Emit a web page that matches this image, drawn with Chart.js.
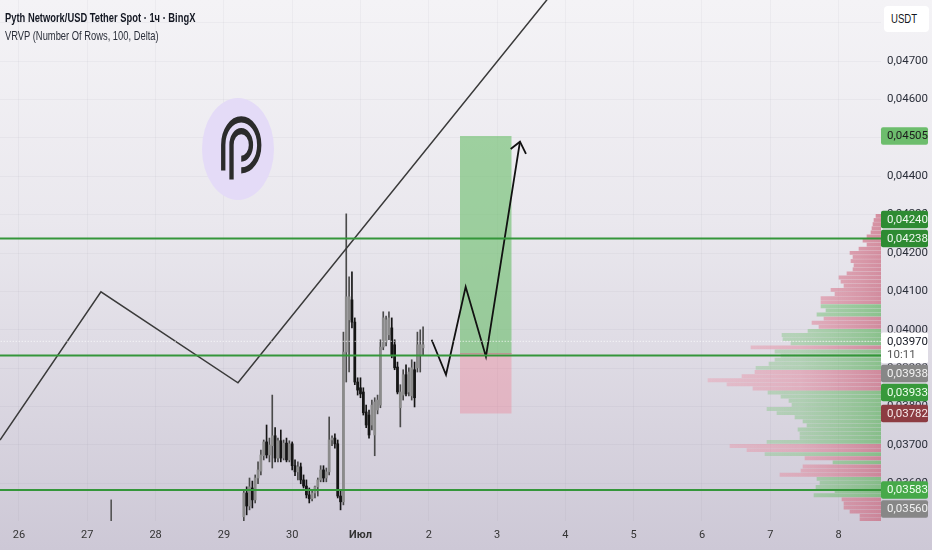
<!DOCTYPE html>
<html>
<head>
<meta charset="utf-8">
<script src="https://cdn.jsdelivr.net/npm/chart.js@4.4.0/dist/chart.umd.min.js"></script>
<style>
html,body{margin:0;padding:0;width:932px;height:550px;overflow:hidden;}
body{position:relative;background:linear-gradient(to bottom,#f4f3f6 0%,#eae8ee 40%,#cdc8d6 100%);font-family:'Liberation Sans',Arial,sans-serif;}
#c{position:absolute;left:0;top:0;}
.t1,.t2{position:absolute;left:5px;white-space:nowrap;transform:scaleX(0.72);transform-origin:0 0;}
.t1{top:10px;font-size:13px;font-weight:bold;color:#131722;}
.t2{top:28px;font-size:13px;color:#2a2e39;}
.usdt{position:absolute;left:884px;top:6px;width:45px;height:26px;background:#fff;border-radius:4px;}
.usdt span{position:absolute;left:7px;top:6px;font-size:12px;color:#131722;transform:scaleX(0.8);transform-origin:0 0;}
.logo{position:absolute;left:202px;top:98px;width:72px;height:102px;}
</style>
</head>
<body>
<canvas id="c" width="932" height="550"></canvas>
<div class="t1">Pyth Network/USD Tether Spot · 1ч · BingX</div>
<div class="t2">VRVP (Number Of Rows, 100, Delta)</div>
<div class="usdt"><span>USDT</span></div>
<svg class="logo" viewBox="0 0 100 100" preserveAspectRatio="none">
  <ellipse cx="50" cy="50" rx="50" ry="50" fill="#e4dbf7"/>
  <path d="M29.5 71 L29.5 46 A25 25 0 1 1 54.5 71" fill="none" stroke="#2b2b2b" stroke-width="6"/>
  <path d="M41 80 L41 46 A13.5 13.5 0 1 1 54.5 59.5" fill="none" stroke="#2b2b2b" stroke-width="6"/>
</svg>
<script>
// ---------- DATA ----------
// x axis: day of month (31 = 1 July)
const dayTicks  = [26, 27, 28, 29, 30, 31, 32, 33, 34, 35, 36, 37, 38];
const dayLabels = ['26', '27', '28', '29', '30', 'Июл', '2', '3', '4', '5', '6', '7', '8'];
const priceTicks = [0.036, 0.037, 0.038, 0.039, 0.040, 0.041, 0.042, 0.043, 0.044, 0.045, 0.046, 0.047, 0.048];
const xRange = [25.722, 38.621];
const yRange = [0.03502, 0.04859];

// hourly candles, first one 29 Jun 07:00
const candleStart = 29 + 7 / 24;
const candleStep = 1 / 24;
const opens  = [0.03513,0.03575,0.03541,0.03588,0.03557,0.03614,0.03632,0.03672,0.03708,0.03674,0.03698,0.03724,0.03666,0.03711,0.03666,0.03705,0.03661,0.03703,0.03646,0.03630,0.03643,0.03609,0.03593,0.03570,0.03560,0.03575,0.03591,0.03609,0.03635,0.03614,0.03630,0.03713,0.03718,0.03703,0.03567,0.03552,
                0.03942,0.04026,0.04078,0.04020,0.03864,0.03849,0.03838,0.03786,0.03778,0.03752,0.03726,0.03791,0.03804,0.03955,0.03968,0.03987,0.04005,0.03961,0.03903,0.03797,0.03830,0.03883,0.03838,0.03828,0.03896,0.03901,0.03935,0.03953];
const highs  = [0.03583,0.03591,0.03614,0.03606,0.03622,0.03656,0.03687,0.03713,0.03752,0.03718,0.03830,0.03745,0.03718,0.03739,0.03713,0.03718,0.03711,0.03708,0.03661,0.03656,0.03653,0.03622,0.03609,0.03588,0.03583,0.03593,0.03614,0.03646,0.03646,0.03640,0.03773,0.03724,0.03729,0.03713,0.03583,0.03994,
                0.04302,0.04138,0.04151,0.04031,0.03875,0.03875,0.03849,0.03804,0.03791,0.03817,0.03823,0.03830,0.03974,0.04047,0.04036,0.04047,0.04031,0.03974,0.03916,0.03857,0.03896,0.03909,0.03901,0.03922,0.03916,0.03994,0.04000,0.04008];
const lows   = [0.03500,0.03518,0.03531,0.03536,0.03549,0.03599,0.03622,0.03661,0.03666,0.03656,0.03640,0.03656,0.03656,0.03656,0.03661,0.03656,0.03656,0.03635,0.03620,0.03609,0.03599,0.03588,0.03562,0.03549,0.03554,0.03562,0.03567,0.03604,0.03604,0.03604,0.03622,0.03698,0.03692,0.03562,0.03531,0.03544,
                0.03864,0.03890,0.04005,0.03857,0.03830,0.03823,0.03778,0.03745,0.03718,0.03739,0.03672,0.03781,0.03797,0.03948,0.03958,0.03974,0.03927,0.03896,0.03833,0.03747,0.03817,0.03828,0.03828,0.03817,0.03799,0.03890,0.03890,0.03935];
const closes = [0.03575,0.03541,0.03591,0.03557,0.03614,0.03635,0.03674,0.03708,0.03674,0.03700,0.03724,0.03666,0.03711,0.03666,0.03705,0.03661,0.03703,0.03646,0.03630,0.03643,0.03609,0.03593,0.03570,0.03560,0.03575,0.03591,0.03609,0.03635,0.03614,0.03630,0.03713,0.03718,0.03703,0.03567,0.03552,0.03942,
                0.04086,0.04086,0.04020,0.03864,0.03843,0.03833,0.03784,0.03752,0.03726,0.03804,0.03812,0.03817,0.03955,0.04031,0.04026,0.04031,0.03935,0.03901,0.03838,0.03838,0.03883,0.03833,0.03890,0.03901,0.03823,0.03961,0.03961,0.03961];
// a single earlier candle whose wick pokes into view on 27 Jun
const earlyCandle = { t: 27.35, o: 0.03460, h: 0.03557, l: 0.03400, c: 0.03440 };

// Visible range volume profile (rows from top), volume in K, delta sign (+1 buy, -1 sell)
const vpTop = 0.04302;
const vpStep = 0.000107;
const vpVolume = [10,14,16,18,20,28,36,28,44,62,56,60,54,56,68,84,80,74,100,92,
                  120,120,120,110,128,114,138,124,146,198,196,180,260,212,200,212,224,250,252,278,
                  346,308,256,226,200,184,178,228,208,172,156,148,166,162,162,228,302,268,232,152,
                  96,156,160,202,128,122,130,92,134,78,74,74,62,42,42];
const vpDeltaSign = [-1,-1,-1,-1,-1,-1,-1,-1,-1,-1,-1,-1,-1,-1,-1,-1,-1,-1,-1,-1,-1,-1,
                     1,1,1,-1,-1,-1,1,1,1,1,-1,1,1,1,1,1,-1,-1,-1,-1,-1,
                     1,1,1,1,1,1,1,1,1,1,1,1,1,-1,-1,1,-1,1,-1,-1,-1,
                     1,1,1,1,1,-1,-1,-1,-1,-1,-1];
const vpAxisMax = 1762;

// drawings
const zigzagX = [25.722, 27.20, 29.206, 33.90];
const zigzagY = [0.03713, 0.04099, 0.03862, 0.04897];
const forecastX = [32.042, 32.252, 32.540, 32.837, 33.335];
const forecastY = [0.03974, 0.03883, 0.04112, 0.03930, 0.04490];
const arrowHeadX = [33.199, 33.335, 33.423];
const arrowHeadY = [0.04471, 0.04490, 0.04458];
const levelPrices = [0.04238, 0.03933, 0.03583];
const positionTime = [32.457, 33.214];
const positionEntry = 0.03938, positionTarget = 0.04505, positionStop = 0.03782;
const lastPrice = 0.03970;
const countdown = '10:11';

// price scale labels
const badges = [
  { value: 0.04505, bg: '#6dbd6d', fg: '#1c1c1c' },
  { value: 0.04240, bg: '#2e8b32', fg: '#eef8ee', lift: true },
  { value: 0.04238, bg: '#2e8b32', fg: '#eef8ee' },
  { value: 0.03970, bg: '#ffffff', fg: '#131722', sub: countdown, subFg: '#555' },
  { value: 0.03938, bg: '#878787', fg: '#f3f3f3' },
  { value: 0.03933, bg: '#37993b', fg: '#f0fff0' },
  { value: 0.03782, bg: '#8d3c42', fg: '#f6e9ea' },
  { value: 0.03583, bg: '#46a949', fg: '#f0fff0' },
  { value: 0.03560, bg: '#878787', fg: '#f3f3f3' }
];

// ---------- CHART ----------
const FONT = "Roboto, 'Liberation Sans', sans-serif";
const toComma = v => v.toFixed(5).replace('.', ',');
const candleTimes = opens.map((_, i) => candleStart + i * candleStep);
const upBody = '#8b8b8b', downBody = '#151515', upWick = '#4a4a4a', downWick = '#151515';

function vpGradient(chart, stops) {
  const { ctx, chartArea } = chart;
  if (!chartArea) return stops[stops.length - 1][1];
  const g = ctx.createLinearGradient(chartArea.right - 180, 0, chartArea.right, 0);
  stops.forEach(s => g.addColorStop(s[0], s[1]));
  return g;
}
const sellStops = [[0, 'rgba(238,150,170,0.38)'], [0.55, 'rgba(228,135,155,0.5)'], [1, 'rgba(200,95,118,0.65)']];
const buyStops  = [[0, 'rgba(150,200,150,0.34)'], [0.55, 'rgba(130,198,130,0.48)'], [1, 'rgba(92,178,92,0.65)']];

const vpRows = vpVolume.map((v, i) => ({ x: v, y: vpTop - (i + 0.5) * vpStep, s: vpDeltaSign[i] }));

const lineDs = (xs, ys, extra) => Object.assign({
  type: 'line', xAxisID: 'x', yAxisID: 'y',
  data: xs.map((x, i) => ({ x, y: ys[i] })),
  borderColor: '#262626', borderWidth: 1.6, pointRadius: 0, fill: false, tension: 0
}, extra || {});

const datasets = [
  { type: 'bar', indexAxis: 'y', xAxisID: 'xv', yAxisID: 'y', order: 30, grouped: false, barThickness: 3.2,
    data: vpRows.filter(r => r.s < 0).map(r => ({ x: r.x, y: r.y })),
    backgroundColor: c => vpGradient(c.chart, sellStops) },
  { type: 'bar', indexAxis: 'y', xAxisID: 'xv', yAxisID: 'y', order: 30, grouped: false, barThickness: 3.2,
    data: vpRows.filter(r => r.s > 0).map(r => ({ x: r.x, y: r.y })),
    backgroundColor: c => vpGradient(c.chart, buyStops) },
  lineDs(positionTime, [positionTarget, positionTarget], { order: 25, borderWidth: 0, borderColor: 'rgba(0,0,0,0)',
    fill: { value: positionEntry }, backgroundColor: 'rgba(108,190,108,0.62)' }),
  lineDs(positionTime, [positionStop, positionStop], { order: 25, borderWidth: 0, borderColor: 'rgba(0,0,0,0)',
    fill: { value: positionEntry }, backgroundColor: 'rgba(240,120,140,0.35)' }),
  lineDs(positionTime, [positionEntry, positionEntry], { order: 24, borderWidth: 1, borderColor: 'rgba(190,110,120,0.6)' }),
  { type: 'bar', xAxisID: 'x', yAxisID: 'y', order: 20, grouped: false, barThickness: 1,
    data: [{ x: earlyCandle.t, y: [earlyCandle.l, earlyCandle.h] }], backgroundColor: '#555' },
  { type: 'bar', xAxisID: 'x', yAxisID: 'y', order: 20, grouped: false, barThickness: 1,
    data: candleTimes.map((t, i) => ({ x: t, y: [lows[i], highs[i]] })),
    backgroundColor: c => closes[c.dataIndex] >= opens[c.dataIndex] ? upWick : downWick },
  { type: 'bar', xAxisID: 'x', yAxisID: 'y', order: 19, grouped: false, barThickness: 2.1,
    data: candleTimes.map((t, i) => ({ x: t, y: [opens[i], closes[i]] })),
    backgroundColor: c => closes[c.dataIndex] >= opens[c.dataIndex] ? upBody : downBody },
  lineDs(zigzagX, zigzagY, { order: 10, borderColor: '#3a3a3a', borderWidth: 1.5 }),
  lineDs(forecastX, forecastY, { order: 10, borderColor: '#111', borderWidth: 1.8 }),
  lineDs(arrowHeadX, arrowHeadY, { order: 10, borderColor: '#111', borderWidth: 1.8 }),
  ...levelPrices.map(p => lineDs([xRange[0] - 1, xRange[1] + 1], [p, p], { order: 5, borderColor: '#34963a', borderWidth: 2 })),
  lineDs([xRange[0] - 1, xRange[1] + 1], [lastPrice, lastPrice], { order: 4, borderColor: 'rgba(255,255,255,0.95)', borderWidth: 1, borderDash: [1, 2] })
];

const badgePlugin = {
  id: 'badges',
  afterDraw(chart) {
    const { ctx, chartArea, scales } = chart;
    const y = scales.y;
    const H = 17.5, W = 47, GAP = 1.5, x0 = chartArea.right;
    const items = badges.map(b => Object.assign({}, b, { py: y.getPixelForValue(b.value) }));
    let bottom = -Infinity;
    items.forEach(it => {
      if (it.lift) return;
      const h = it.sub ? H * 1.75 : H;
      const top = Math.max(it.py - H / 2, bottom + GAP);
      it.top = top; it.h = h; bottom = top + h;
    });
    items.forEach((it, i) => {
      if (it.lift) { it.h = H; it.top = items[i + 1].top - H - GAP; }
    });
    ctx.save();
    ctx.font = '11.5px ' + FONT;
    ctx.textBaseline = 'middle';
    ctx.textAlign = 'left';
    items.forEach(it => {
      ctx.fillStyle = it.bg;
      ctx.beginPath();
      if (ctx.roundRect) ctx.roundRect(x0, it.top, W, it.h, 2); else ctx.rect(x0, it.top, W, it.h);
      ctx.fill();
      ctx.fillStyle = it.fg;
      ctx.fillText(toComma(it.value), x0 + 6, it.top + H / 2 + 0.5);
      if (it.sub) { ctx.fillStyle = it.subFg; ctx.fillText(it.sub, x0 + 6, it.top + H / 2 + 14); }
    });
    ctx.restore();
  }
};

const noPad = s => { s.paddingTop = 0; s.paddingBottom = 0; s.paddingLeft = 0; s.paddingRight = 0; };

new Chart(document.getElementById('c'), {
  type: 'bar',
  data: { datasets },
  options: {
    responsive: false,
    animation: false,
    events: [],
    layout: { padding: 0 },
    plugins: { legend: { display: false }, tooltip: { enabled: false } },
    scales: {
      x: {
        type: 'linear', position: 'bottom', min: xRange[0], max: xRange[1], offset: false,
        afterFit: s => { s.height = 29; noPad(s); },
        afterBuildTicks: s => { s.ticks = dayTicks.map(v => ({ value: v })); },
        grid: { color: 'rgba(70,60,100,0.045)', drawTicks: false, offset: false },
        border: { display: false },
        ticks: {
          padding: 8, color: '#333', maxRotation: 0, autoSkip: false,
          font: c => ({ size: 11, family: FONT, weight: (c.tick && c.tick.value === 31) ? 'bold' : 'normal' }),
          callback: v => dayLabels[dayTicks.indexOf(v)]
        }
      },
      xv: { type: 'linear', display: false, min: 0, max: vpAxisMax, reverse: true, offset: false, grid: { display: false, offset: false } },
      y: {
        type: 'linear', position: 'right', min: yRange[0], max: yRange[1], offset: false,
        afterFit: s => { s.width = 51; noPad(s); },
        afterBuildTicks: s => { s.ticks = priceTicks.map(v => ({ value: v })); },
        grid: { color: 'rgba(70,60,100,0.045)', drawTicks: false, offset: false },
        border: { display: false },
        ticks: { padding: 6, color: '#2a2e39', font: { size: 11.5, family: FONT }, callback: v => toComma(v) }
      }
    }
  },
  plugins: [badgePlugin]
});
</script>
</body>
</html>
